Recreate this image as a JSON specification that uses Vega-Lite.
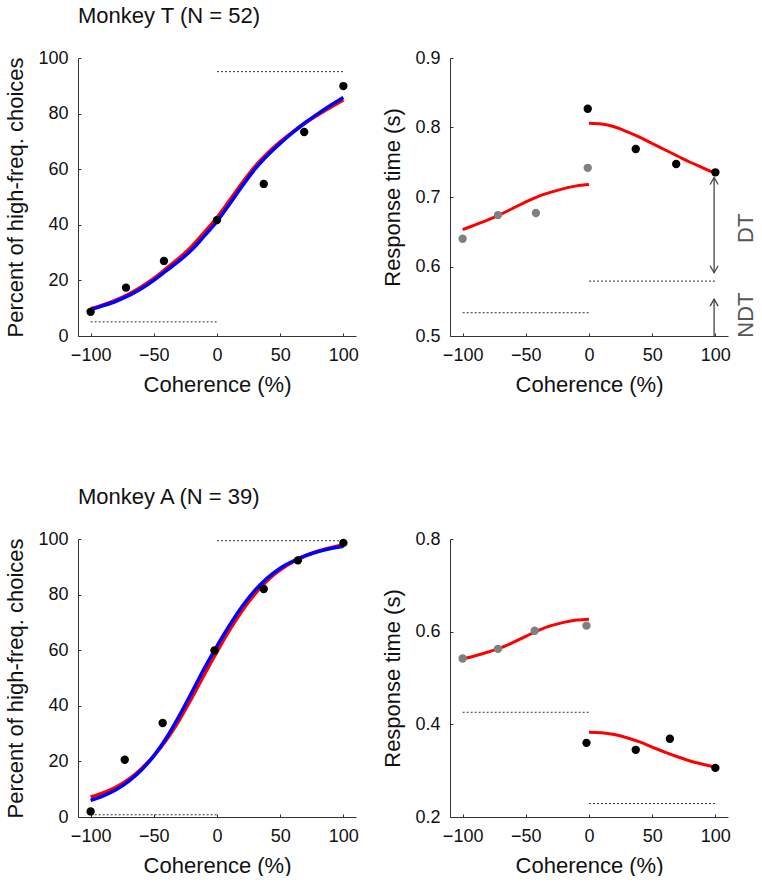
{
  "$schema": "https://vega.github.io/schema/vega-lite/v6.json",
  "background": "white",
  "padding": {"left": 4, "top": 5, "right": 0, "bottom": 0},
  "config": {
    "font": "Liberation Sans",
    "view": {"stroke": null},
    "axis": {
      "grid": false,
      "domainColor": "#333333",
      "tickColor": "#333333",
      "tickSize": -3,
      "labelFontSize": 18,
      "titleFontSize": 22,
      "labelColor": "#111111",
      "titleColor": "#111111",
      "titleFontWeight": "normal",
      "labelPadding": 13,
      "titlePadding": 10
    },
    "title": {"fontSize": 22, "fontWeight": "normal", "anchor": "start", "frame": "group", "color": "#111111", "offset": 21}
  },
  "datasets": {
    "tChoicePts": [
      {"coh": -100, "pct": 8.7}, {"coh": -72, "pct": 17.4}, {"coh": -42, "pct": 27.0}, {"coh": 0, "pct": 41.7},
      {"coh": 37, "pct": 54.7}, {"coh": 69, "pct": 73.4}, {"coh": 100, "pct": 89.9}
    ],
    "tChoiceRed": [
      {"coh": -100, "pct": 9.8}, {"coh": -90, "pct": 11.2}, {"coh": -80, "pct": 12.9}, {"coh": -70, "pct": 15.0},
      {"coh": -60, "pct": 17.6}, {"coh": -50, "pct": 20.7}, {"coh": -40, "pct": 24.3}, {"coh": -30, "pct": 28.0},
      {"coh": -20, "pct": 32.2}, {"coh": -10, "pct": 37.3}, {"coh": 0, "pct": 42.6}, {"coh": 10, "pct": 48.8},
      {"coh": 20, "pct": 55.1}, {"coh": 30, "pct": 60.9}, {"coh": 40, "pct": 65.7}, {"coh": 50, "pct": 69.8},
      {"coh": 60, "pct": 73.4}, {"coh": 70, "pct": 76.7}, {"coh": 80, "pct": 79.6}, {"coh": 90, "pct": 82.3}, {"coh": 100, "pct": 84.9}
    ],
    "tChoiceBlue": [
      {"coh": -100, "pct": 9.5}, {"coh": -90, "pct": 10.9}, {"coh": -80, "pct": 12.5}, {"coh": -70, "pct": 14.5},
      {"coh": -60, "pct": 17.0}, {"coh": -50, "pct": 20.0}, {"coh": -40, "pct": 23.5}, {"coh": -30, "pct": 27.0},
      {"coh": -20, "pct": 31.0}, {"coh": -10, "pct": 36.0}, {"coh": 0, "pct": 41.2}, {"coh": 10, "pct": 47.5},
      {"coh": 20, "pct": 54.0}, {"coh": 30, "pct": 60.0}, {"coh": 40, "pct": 65.0}, {"coh": 50, "pct": 69.3},
      {"coh": 60, "pct": 73.2}, {"coh": 70, "pct": 76.8}, {"coh": 80, "pct": 80.0}, {"coh": 90, "pct": 83.0}, {"coh": 100, "pct": 85.8}
    ],
    "tChoiceRef": [{"x1": -100, "x2": 0, "y": 5.1}, {"x1": 0, "x2": 100, "y": 95.1}],
    "aChoicePts": [
      {"coh": -100, "pct": 2.0}, {"coh": -73, "pct": 20.6}, {"coh": -43, "pct": 33.8}, {"coh": -2, "pct": 59.9},
      {"coh": 37, "pct": 82.0}, {"coh": 64, "pct": 92.3}, {"coh": 100, "pct": 98.6}
    ],
    "aChoiceRed": [
      {"coh": -100, "pct": 7.2}, {"coh": -90, "pct": 8.7}, {"coh": -80, "pct": 10.7}, {"coh": -70, "pct": 13.5},
      {"coh": -60, "pct": 17.3}, {"coh": -50, "pct": 22.0}, {"coh": -40, "pct": 27.8}, {"coh": -30, "pct": 34.8},
      {"coh": -20, "pct": 42.8}, {"coh": -10, "pct": 51.3}, {"coh": 0, "pct": 59.5}, {"coh": 10, "pct": 67.3},
      {"coh": 20, "pct": 74.3}, {"coh": 30, "pct": 80.3}, {"coh": 40, "pct": 85.2}, {"coh": 50, "pct": 88.9},
      {"coh": 60, "pct": 91.7}, {"coh": 70, "pct": 93.9}, {"coh": 80, "pct": 95.6}, {"coh": 90, "pct": 96.9}, {"coh": 100, "pct": 97.9}
    ],
    "aChoiceBlue": [
      {"coh": -100, "pct": 6.0}, {"coh": -90, "pct": 7.6}, {"coh": -80, "pct": 9.8}, {"coh": -70, "pct": 12.8},
      {"coh": -60, "pct": 16.8}, {"coh": -50, "pct": 22.0}, {"coh": -40, "pct": 28.5}, {"coh": -30, "pct": 36.3},
      {"coh": -20, "pct": 44.8}, {"coh": -10, "pct": 53.5}, {"coh": 0, "pct": 61.5}, {"coh": 10, "pct": 69.0},
      {"coh": 20, "pct": 75.8}, {"coh": 30, "pct": 81.5}, {"coh": 40, "pct": 86.0}, {"coh": 50, "pct": 89.5},
      {"coh": 60, "pct": 92.0}, {"coh": 70, "pct": 94.0}, {"coh": 80, "pct": 95.5}, {"coh": 90, "pct": 96.6}, {"coh": 100, "pct": 97.4}
    ],
    "aChoiceRef": [{"x1": -100, "x2": 0, "y": 0.8}, {"x1": 0, "x2": 100, "y": 99.4}],
    "tRTLow": [{"coh": -100, "rt": 0.640}, {"coh": -72, "rt": 0.674}, {"coh": -42, "rt": 0.677}, {"coh": -1, "rt": 0.742}],
    "tRTHigh": [{"coh": -1, "rt": 0.827}, {"coh": 37, "rt": 0.769}, {"coh": 69, "rt": 0.7475}, {"coh": 100, "rt": 0.7355}],
    "tRTFit": [
      {"branch": "neg", "coh": -100, "rt": 0.653}, {"branch": "neg", "coh": -90, "rt": 0.660}, {"branch": "neg", "coh": -80, "rt": 0.667},
      {"branch": "neg", "coh": -70, "rt": 0.675}, {"branch": "neg", "coh": -60, "rt": 0.684}, {"branch": "neg", "coh": -50, "rt": 0.693},
      {"branch": "neg", "coh": -40, "rt": 0.701}, {"branch": "neg", "coh": -30, "rt": 0.707}, {"branch": "neg", "coh": -20, "rt": 0.712},
      {"branch": "neg", "coh": -10, "rt": 0.716}, {"branch": "neg", "coh": 0, "rt": 0.718},
      {"branch": "pos", "coh": 0, "rt": 0.806}, {"branch": "pos", "coh": 10, "rt": 0.805}, {"branch": "pos", "coh": 20, "rt": 0.801},
      {"branch": "pos", "coh": 30, "rt": 0.794}, {"branch": "pos", "coh": 40, "rt": 0.786}, {"branch": "pos", "coh": 50, "rt": 0.777},
      {"branch": "pos", "coh": 60, "rt": 0.768}, {"branch": "pos", "coh": 70, "rt": 0.759}, {"branch": "pos", "coh": 80, "rt": 0.750},
      {"branch": "pos", "coh": 90, "rt": 0.742}, {"branch": "pos", "coh": 100, "rt": 0.734}
    ],
    "tRTRef": [{"x1": -100, "x2": 0, "y": 0.5335}, {"x1": 0, "x2": 100, "y": 0.579}],
    "tArrowLines": [{"coh": 99, "lo": 0.591, "hi": 0.728}, {"coh": 99, "lo": 0.5, "hi": 0.553}],
    "tArrowUp": [{"coh": 99, "rt": 0.728}, {"coh": 99, "rt": 0.553}],
    "tArrowDown": [{"coh": 99, "rt": 0.591}],
    "tArrowText": [{"coh": 124, "rt": 0.655, "label": "DT"}, {"coh": 124, "rt": 0.530, "label": "NDT"}],
    "aRTLow": [{"coh": -100, "rt": 0.542}, {"coh": -72, "rt": 0.563}, {"coh": -43, "rt": 0.602}, {"coh": -2, "rt": 0.613}],
    "aRTHigh": [{"coh": -2, "rt": 0.360}, {"coh": 37, "rt": 0.345}, {"coh": 64, "rt": 0.369}, {"coh": 100, "rt": 0.306}],
    "aRTFit": [
      {"branch": "neg", "coh": -100, "rt": 0.541}, {"branch": "neg", "coh": -90, "rt": 0.548}, {"branch": "neg", "coh": -80, "rt": 0.556},
      {"branch": "neg", "coh": -70, "rt": 0.565}, {"branch": "neg", "coh": -60, "rt": 0.577}, {"branch": "neg", "coh": -50, "rt": 0.590},
      {"branch": "neg", "coh": -40, "rt": 0.603}, {"branch": "neg", "coh": -30, "rt": 0.613}, {"branch": "neg", "coh": -20, "rt": 0.620},
      {"branch": "neg", "coh": -10, "rt": 0.625}, {"branch": "neg", "coh": 0, "rt": 0.627},
      {"branch": "pos", "coh": 0, "rt": 0.383}, {"branch": "pos", "coh": 10, "rt": 0.382}, {"branch": "pos", "coh": 20, "rt": 0.378},
      {"branch": "pos", "coh": 30, "rt": 0.371}, {"branch": "pos", "coh": 40, "rt": 0.362}, {"branch": "pos", "coh": 50, "rt": 0.351},
      {"branch": "pos", "coh": 60, "rt": 0.340}, {"branch": "pos", "coh": 70, "rt": 0.330}, {"branch": "pos", "coh": 80, "rt": 0.321},
      {"branch": "pos", "coh": 90, "rt": 0.314}, {"branch": "pos", "coh": 100, "rt": 0.308}
    ],
    "aRTRef": [{"x1": -100, "x2": 0, "y": 0.426}, {"x1": 0, "x2": 100, "y": 0.229}]
  },
  "columns": 2,
  "spacing": {"row": 203, "column": 94},
  "bounds": "flush",
  "concat": [
    {
      "title": "Monkey T (N = 52)",
      "width": 278,
      "height": 278,
      "layer": [
        {
          "data": {"name": "tChoiceRef"},
          "mark": {"type": "rule", "color": "#333333", "strokeWidth": 1, "strokeDash": [2, 2]},
          "encoding": {
            "x": {"field": "x1", "type": "quantitative", "scale": {"domain": [-110, 110], "nice": false}, "axis": {"values": [-100, -50, 0, 50, 100], "title": "Coherence (%)"}},
            "x2": {"field": "x2"},
            "y": {"field": "y", "type": "quantitative", "scale": {"domain": [0, 100], "nice": false}, "axis": {"values": [0, 20, 40, 60, 80, 100], "title": "Percent of high-freq. choices"}}
          }
        },
        {
          "data": {"name": "tChoiceRed"},
          "mark": {"type": "line", "strokeWidth": 3.5, "color": "#ff0000", "interpolate": "monotone"},
          "encoding": {"x": {"field": "coh", "type": "quantitative"}, "y": {"field": "pct", "type": "quantitative"}}
        },
        {
          "data": {"name": "tChoiceBlue"},
          "mark": {"type": "line", "strokeWidth": 3.5, "color": "#0000ff", "interpolate": "monotone"},
          "encoding": {"x": {"field": "coh", "type": "quantitative"}, "y": {"field": "pct", "type": "quantitative"}}
        },
        {
          "data": {"name": "tChoicePts"},
          "mark": {"type": "point", "filled": true, "size": 70, "color": "#000000", "opacity": 1},
          "encoding": {"x": {"field": "coh", "type": "quantitative"}, "y": {"field": "pct", "type": "quantitative"}}
        }
      ]
    },
    {
      "width": 278,
      "height": 278,
      "layer": [
        {
          "data": {"name": "tRTRef"},
          "mark": {"type": "rule", "color": "#333333", "strokeWidth": 1, "strokeDash": [2, 2]},
          "encoding": {
            "x": {"field": "x1", "type": "quantitative", "scale": {"domain": [-110, 110], "nice": false}, "axis": {"values": [-100, -50, 0, 50, 100], "title": "Coherence (%)"}},
            "x2": {"field": "x2"},
            "y": {"field": "y", "type": "quantitative", "scale": {"domain": [0.5, 0.9], "nice": false, "zero": false}, "axis": {"values": [0.5, 0.6, 0.7, 0.8, 0.9], "format": ".1f", "title": "Response time (s)"}}
          }
        },
        {
          "data": {"name": "tArrowLines"},
          "mark": {"type": "rule", "color": "#444444", "strokeWidth": 1.3},
          "encoding": {"x": {"field": "coh", "type": "quantitative"}, "y": {"field": "lo", "type": "quantitative"}, "y2": {"field": "hi"}}
        },
        {
          "data": {"name": "tArrowUp"},
          "mark": {"type": "point", "filled": false, "size": 100, "color": "#444444", "strokeWidth": 1.3, "opacity": 1, "shape": "M-0.8,1.4L0,0L0.8,1.4"},
          "encoding": {"x": {"field": "coh", "type": "quantitative"}, "y": {"field": "rt", "type": "quantitative"}}
        },
        {
          "data": {"name": "tArrowDown"},
          "mark": {"type": "point", "filled": false, "size": 100, "color": "#444444", "strokeWidth": 1.3, "opacity": 1, "shape": "M-0.8,-1.4L0,0L0.8,-1.4"},
          "encoding": {"x": {"field": "coh", "type": "quantitative"}, "y": {"field": "rt", "type": "quantitative"}}
        },
        {
          "data": {"name": "tArrowText"},
          "mark": {"type": "text", "angle": 270, "fontSize": 22, "color": "#555555", "align": "center", "baseline": "middle"},
          "encoding": {"x": {"field": "coh", "type": "quantitative"}, "y": {"field": "rt", "type": "quantitative"}, "text": {"field": "label"}}
        },
        {
          "data": {"name": "tRTFit"},
          "mark": {"type": "line", "strokeWidth": 3, "color": "#ff0000", "interpolate": "monotone"},
          "encoding": {"x": {"field": "coh", "type": "quantitative"}, "y": {"field": "rt", "type": "quantitative"}, "detail": {"field": "branch"}}
        },
        {
          "data": {"name": "tRTLow"},
          "mark": {"type": "point", "filled": true, "size": 70, "color": "#808080", "opacity": 1},
          "encoding": {"x": {"field": "coh", "type": "quantitative"}, "y": {"field": "rt", "type": "quantitative"}}
        },
        {
          "data": {"name": "tRTHigh"},
          "mark": {"type": "point", "filled": true, "size": 70, "color": "#000000", "opacity": 1},
          "encoding": {"x": {"field": "coh", "type": "quantitative"}, "y": {"field": "rt", "type": "quantitative"}}
        }
      ]
    },
    {
      "title": "Monkey A (N = 39)",
      "width": 278,
      "height": 278,
      "layer": [
        {
          "data": {"name": "aChoiceRef"},
          "mark": {"type": "rule", "color": "#333333", "strokeWidth": 1, "strokeDash": [2, 2]},
          "encoding": {
            "x": {"field": "x1", "type": "quantitative", "scale": {"domain": [-110, 110], "nice": false}, "axis": {"values": [-100, -50, 0, 50, 100], "title": "Coherence (%)"}},
            "x2": {"field": "x2"},
            "y": {"field": "y", "type": "quantitative", "scale": {"domain": [0, 100], "nice": false}, "axis": {"values": [0, 20, 40, 60, 80, 100], "title": "Percent of high-freq. choices"}}
          }
        },
        {
          "data": {"name": "aChoiceRed"},
          "mark": {"type": "line", "strokeWidth": 3.5, "color": "#ff0000", "interpolate": "monotone"},
          "encoding": {"x": {"field": "coh", "type": "quantitative"}, "y": {"field": "pct", "type": "quantitative"}}
        },
        {
          "data": {"name": "aChoiceBlue"},
          "mark": {"type": "line", "strokeWidth": 3.5, "color": "#0000ff", "interpolate": "monotone"},
          "encoding": {"x": {"field": "coh", "type": "quantitative"}, "y": {"field": "pct", "type": "quantitative"}}
        },
        {
          "data": {"name": "aChoicePts"},
          "mark": {"type": "point", "filled": true, "size": 70, "color": "#000000", "opacity": 1},
          "encoding": {"x": {"field": "coh", "type": "quantitative"}, "y": {"field": "pct", "type": "quantitative"}}
        }
      ]
    },
    {
      "width": 278,
      "height": 278,
      "layer": [
        {
          "data": {"name": "aRTRef"},
          "mark": {"type": "rule", "color": "#333333", "strokeWidth": 1, "strokeDash": [2, 2]},
          "encoding": {
            "x": {"field": "x1", "type": "quantitative", "scale": {"domain": [-110, 110], "nice": false}, "axis": {"values": [-100, -50, 0, 50, 100], "title": "Coherence (%)"}},
            "x2": {"field": "x2"},
            "y": {"field": "y", "type": "quantitative", "scale": {"domain": [0.2, 0.8], "nice": false, "zero": false}, "axis": {"values": [0.2, 0.4, 0.6, 0.8], "format": ".1f", "title": "Response time (s)"}}
          }
        },
        {
          "data": {"name": "aRTFit"},
          "mark": {"type": "line", "strokeWidth": 3, "color": "#ff0000", "interpolate": "monotone"},
          "encoding": {"x": {"field": "coh", "type": "quantitative"}, "y": {"field": "rt", "type": "quantitative"}, "detail": {"field": "branch"}}
        },
        {
          "data": {"name": "aRTLow"},
          "mark": {"type": "point", "filled": true, "size": 70, "color": "#808080", "opacity": 1},
          "encoding": {"x": {"field": "coh", "type": "quantitative"}, "y": {"field": "rt", "type": "quantitative"}}
        },
        {
          "data": {"name": "aRTHigh"},
          "mark": {"type": "point", "filled": true, "size": 70, "color": "#000000", "opacity": 1},
          "encoding": {"x": {"field": "coh", "type": "quantitative"}, "y": {"field": "rt", "type": "quantitative"}}
        }
      ]
    }
  ]
}
